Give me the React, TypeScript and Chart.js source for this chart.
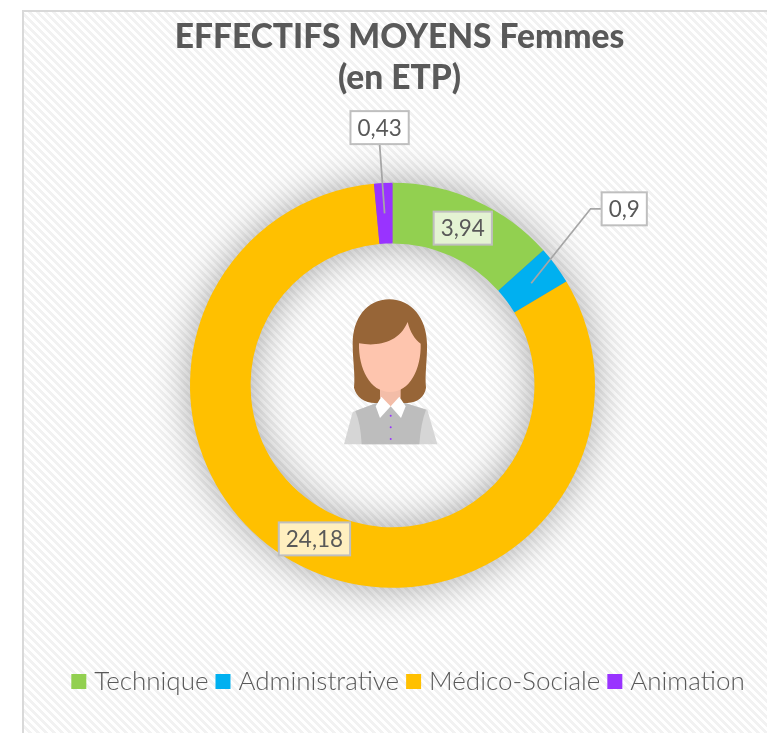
import React, { useEffect, useRef } from "react";
import { Chart, registerables } from "chart.js";

Chart.register(...registerables);

const categories = ["Technique", "Administrative", "Médico-Sociale", "Animation"];
const values = [3.94, 0.9, 24.18, 0.43];
const colors = ["#92d050", "#00b0f0", "#ffc000", "#9933ff"];
const titleLines = ["EFFECTIFS MOYENS Femmes", "(en ETP)"];
const calloutOffsets: ([number, number] | null)[] = [null, [93, -74.5], null, [-5, -85.7]];

const TEXT = "#595959";
const FONT = "Lato, 'Open Sans', sans-serif";

function makePattern(ctx: CanvasRenderingContext2D) {
  const tile = document.createElement("canvas");
  tile.width = 8;
  tile.height = 8;
  const t = tile.getContext("2d")!;
  t.fillStyle = "#ffffff";
  t.fillRect(0, 0, 8, 8);
  t.fillStyle = "#f2f2f2";
  for (let y = 0; y < 8; y++) for (let x = 0; x < 8; x++) {
    if (((x - y + 16) % 8) < 4) t.fillRect(x, y, 1, 1);
  }
  return ctx.createPattern(tile, "repeat")!;
}

const framePlugin = {
  id: "frame",
  afterLayout(chart: any) {
    chart.titleBlock.left += 7;
    chart.titleBlock.right += 7;
    chart.legend.left += 18;
    chart.legend.right += 18;
  },
  beforeDraw(chart: any) {
    const { ctx, width, height } = chart;
    ctx.save();
    ctx.fillStyle = makePattern(ctx);
    ctx.fillRect(23, 11, width, height);
    ctx.strokeStyle = "#d9d9d9";
    ctx.lineWidth = 2;
    ctx.strokeRect(23, 11, width + 10, height + 10);
    ctx.restore();
  },
};

const ringShadowPlugin = {
  id: "ringShadow",
  beforeDatasetsDraw(chart: any) {
    const { ctx } = chart;
    const arc = chart.getDatasetMeta(0).data[0];
    const { x, y, innerRadius, outerRadius } = arc;
    ctx.save();
    ctx.shadowColor = "rgba(0,0,0,0.36)";
    ctx.shadowBlur = 40;
    ctx.fillStyle = "#888888";
    ctx.beginPath();
    ctx.arc(x, y, outerRadius - 1, 0, Math.PI * 2);
    ctx.arc(x, y, innerRadius + 1, Math.PI * 2, 0, true);
    ctx.closePath();
    ctx.fill();
    ctx.restore();
  },
};

function drawPerson(ctx: CanvasRenderingContext2D, cx: number, cy: number) {
  ctx.save();
  ctx.translate(cx - 62.5, cy - 105);
  ctx.scale(1 / 3, 1 / 3);
  const poly = (color: string, pts: number[][]) => {
    ctx.fillStyle = color;
    ctx.beginPath();
    pts.forEach((p, i) => (i ? ctx.lineTo(p[0], p[1]) : ctx.moveTo(p[0], p[1])));
    ctx.closePath();
    ctx.fill();
  };
  // hair
  ctx.fillStyle = "#976537";
  ctx.beginPath();
  ctx.moveTo(178, 57);
  ctx.bezierCurveTo(110, 57, 68, 115, 68, 190);
  ctx.bezierCurveTo(68, 240, 76, 280, 72, 322);
  ctx.bezierCurveTo(78, 350, 105, 368, 135, 368);
  ctx.lineTo(232, 368);
  ctx.bezierCurveTo(262, 366, 284, 350, 288, 322);
  ctx.bezierCurveTo(284, 280, 292, 240, 291, 190);
  ctx.bezierCurveTo(290, 115, 245, 57, 178, 57);
  ctx.closePath();
  ctx.fill();
  // shoulders and sleeves
  ctx.fillStyle = "#d6d6d6";
  ctx.beginPath();
  ctx.moveTo(42, 492);
  ctx.lineTo(68, 395);
  ctx.lineTo(140, 368);
  ctx.lineTo(225, 368);
  ctx.lineTo(292, 388);
  ctx.lineTo(322, 492);
  ctx.closePath();
  ctx.fill();
  // vest
  ctx.fillStyle = "#bdbdbd";
  ctx.beginPath();
  ctx.moveTo(95, 492);
  ctx.quadraticCurveTo(92, 430, 76, 392);
  ctx.lineTo(140, 368);
  ctx.lineTo(225, 368);
  ctx.lineTo(288, 388);
  ctx.quadraticCurveTo(272, 430, 268, 492);
  ctx.closePath();
  ctx.fill();
  // neck
  poly("#f3bda8", [[150, 325], [212, 325], [212, 352], [182, 380], [150, 352]]);
  // face
  ctx.fillStyle = "#fec5ae";
  ctx.beginPath();
  ctx.moveTo(87, 189);
  ctx.bezierCurveTo(140, 198, 205, 190, 233, 125);
  ctx.bezierCurveTo(240, 155, 255, 178, 272, 190);
  ctx.bezierCurveTo(274, 265, 240, 335, 180, 335);
  ctx.bezierCurveTo(120, 335, 85, 265, 87, 189);
  ctx.closePath();
  ctx.fill();
  // collar
  poly("#ffffff", [[137, 378], [154, 349], [182, 378], [150, 413]]);
  poly("#ffffff", [[227, 378], [208, 349], [182, 378], [213, 413]]);
  // buttons
  ctx.fillStyle = "#9933ff";
  [406, 441, 476].forEach((y) => {
    ctx.beginPath();
    ctx.arc(182, y, 3, 0, Math.PI * 2);
    ctx.fill();
  });
  ctx.restore();
}

const labelsPlugin = {
  id: "sliceLabels",
  afterDatasetsDraw(chart: any) {
    const { ctx } = chart;
    const arcs = chart.getDatasetMeta(0).data;
    drawPerson(ctx, arcs[0].x, arcs[0].y);
    ctx.save();
    ctx.font = `22.5px ${FONT}`;
    ctx.textAlign = "center";
    ctx.textBaseline = "middle";
    arcs.forEach((arc: any, i: number) => {
      const pos = arc.tooltipPosition(false);
      const off = calloutOffsets[i];
      const bx = pos.x + (off ? off[0] : 0);
      const by = pos.y + (off ? off[1] : 0);
      const text = String(values[i]).replace(".", ",");
      const w = ctx.measureText(text).width + 14;
      const h = 33;
      if (off) {
        ctx.strokeStyle = "#a6a6a6";
        ctx.lineWidth = 1.75;
        ctx.beginPath();
        ctx.moveTo(pos.x, pos.y);
        if (off[0] > 20) {
          ctx.lineTo(bx - w / 2 - 11, by);
          ctx.lineTo(bx - w / 2, by);
        } else {
          ctx.lineTo(bx, by + h / 2);
        }
        ctx.stroke();
      }
      ctx.fillStyle = off ? "#ffffff" : "rgba(255,255,255,0.75)";
      ctx.fillRect(bx - w / 2, by - h / 2, w, h);
      ctx.strokeStyle = "#bfbfbf";
      ctx.lineWidth = 2;
      ctx.strokeRect(bx - w / 2, by - h / 2, w, h);
      ctx.fillStyle = TEXT;
      ctx.fillText(text, bx, by + 1);
    });
    ctx.restore();
  },
};

export default function App() {
  const ref = useRef<HTMLCanvasElement>(null);
  useEffect(() => {
    const chart = new Chart(ref.current!, {
      type: "doughnut",
      data: {
        labels: categories,
        datasets: [{ data: values, backgroundColor: colors, borderWidth: 0 }],
      },
      options: {
        responsive: false,
        animation: false,
        radius: 202.5,
        cutout: "70.1%",
        layout: { padding: { left: 18, top: 0, right: 0, bottom: 28.5 } },
        plugins: {
          tooltip: { enabled: false },
          title: {
            display: true,
            text: titleLines,
            color: TEXT,
            font: { family: FONT, size: 33.5, weight: "900", lineHeight: 1.22 },
            padding: { top: 17, bottom: 15.5 },
          },
          legend: {
            position: "bottom",
            labels: {
              color: TEXT,
              font: { family: FONT, size: 26, weight: "300" },
              boxWidth: 5,
              boxHeight: 5,
              padding: 12,
              generateLabels(c: any) {
                const base = (Chart as any).overrides.doughnut.plugins.legend.labels.generateLabels(c);
                return base.map((item: any) => ({
                  ...item,
                  lineWidth: 10,
                  strokeStyle: item.fillStyle,
                  fontColor: TEXT,
                }));
              },
            },
          },
        },
      } as any,
      plugins: [framePlugin, ringShadowPlugin, labelsPlugin],
    });
    return () => chart.destroy();
  }, []);
  return (
    <canvas
      ref={ref}
      width={767}
      height={733}
      style={{ position: "absolute", left: 0, top: 0, display: "block" }}
    />
  );
}
